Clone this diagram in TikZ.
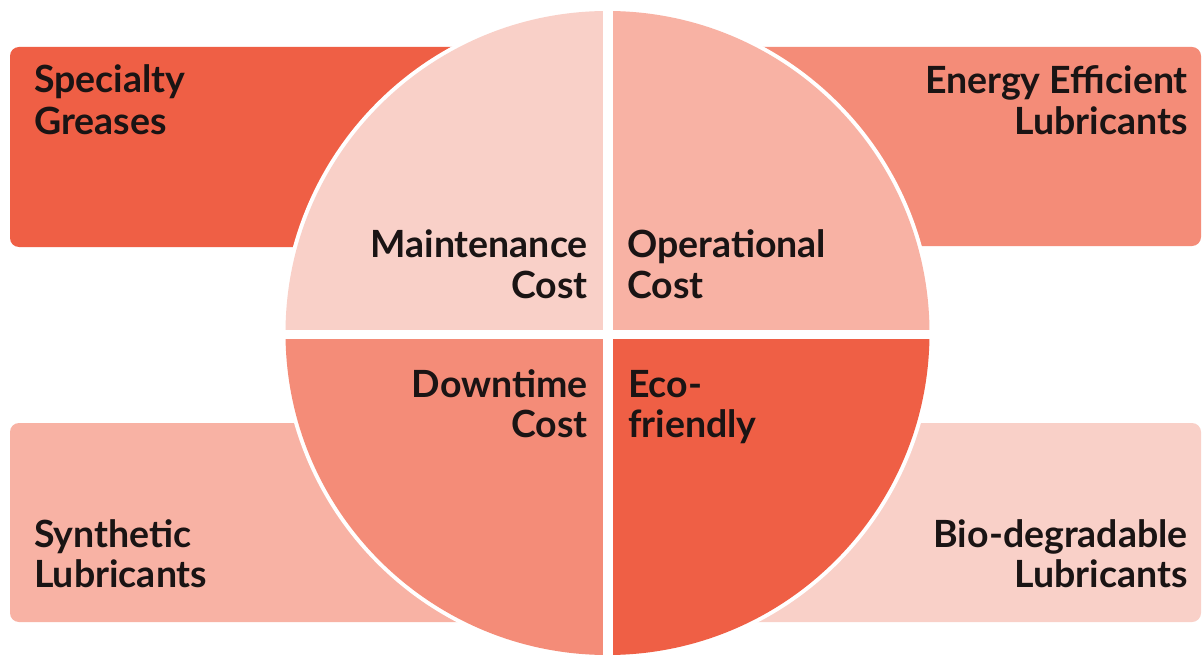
\documentclass[tikz,border=0pt]{standalone}
\usepackage{fontspec}
\setmainfont{Lato}
\definecolor{ink}{HTML}{1A1414}
\definecolor{toneA}{HTML}{EF5F45}
\definecolor{toneB}{HTML}{F48C78}
\definecolor{toneC}{HTML}{F8B2A4}
\definecolor{toneD}{HTML}{F9D0C8}
\begin{document}
\begin{tikzpicture}[x=1pt,y=-1pt,
  lbl/.style={inner sep=0pt, text=ink, font=\bfseries\fontsize{37.5}{41}\selectfont},
  lblL/.style={lbl, anchor=base west},
  lblR/.style={lbl, anchor=base east},
  bar/.style={rounded corners=9pt}]
\useasboundingbox (0,0) rectangle (1202,655);
\fill[white] (0,0) rectangle (1202,655);

% side bars, partly hidden behind the disc
\fill[toneA, bar] (10,47) rectangle (520,247);
\fill[toneB, bar] (700,47) rectangle (1201,246);
\fill[toneC, bar] (10,423) rectangle (520,622);
\fill[toneD, bar] (700,423) rectangle (1201,622);

% disc with a white rim
\coordinate (c) at (607.5,333);
\fill[white] (c) circle (326);
\fill[toneD] (c) -- +(180:322) arc[start angle=180, end angle=270, radius=322] -- cycle;
\fill[toneC] (c) -- +(270:322) arc[start angle=270, end angle=360, radius=322] -- cycle;
\fill[toneA] (c) -- +(0:322) arc[start angle=0, end angle=90, radius=322] -- cycle;
\fill[toneB] (c) -- +(90:322) arc[start angle=90, end angle=180, radius=322] -- cycle;

% gaps between the quadrants
\fill[white] (602.5,0) rectangle (612.5,655);
\fill[white] (270,330) rectangle (945,339);

% bar labels
\node[lblL] (sg1) at (34,93) {Specialty};
\node[lblL] (sg2) at (34,135) {Greases};
\node[lblR] (ee1) at (1188,94) {Energy Efficient};
\node[lblR] (ee2) at (1188,135) {Lubricants};
\node[lblL] (sl1) at (34,547) {Synthetic};
\node[lblL] (sl2) at (34,587) {Lubricants};
\node[lblR] (bd1) at (1188,547) {Bio-degradable};
\node[lblR] (bd2) at (1188,587) {Lubricants};

% quadrant labels
\node[lblR] (mc1) at (588,257) {Maintenance};
\node[lblR] (mc2) at (588,298) {Cost};
\node[lblL] (oc1) at (627,257) {Operational};
\node[lblL] (oc2) at (627,298) {Cost};
\node[lblR] (dc1) at (588,397) {Downtime};
\node[lblR] (dc2) at (588,437) {Cost};
\node[lblL] (ef1) at (628,397) {Eco-};
\node[lblL] (ef2) at (628,437) {friendly};
\end{tikzpicture}
\end{document}
